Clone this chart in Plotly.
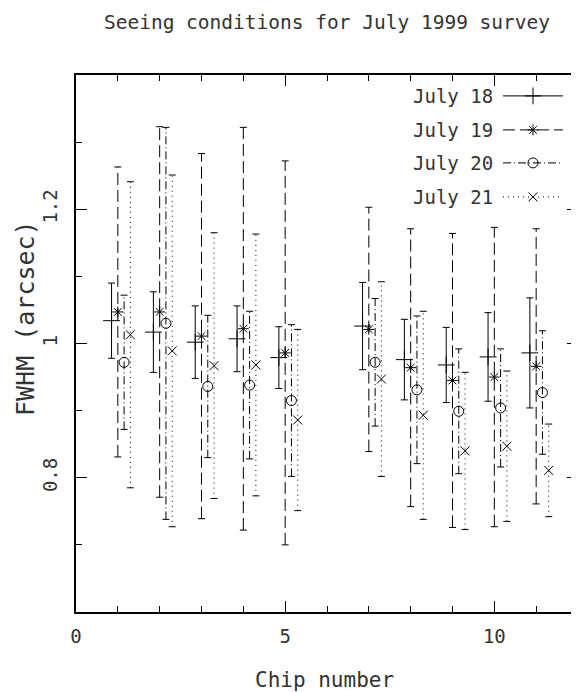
import plotly.graph_objects as go

# ---- data ----
chips = [1, 2, 3, 4, 5, 7, 8, 9, 10, 11]
series_names = ["July 18", "July 19", "July 20", "July 21"]

july18 = [1.034, 1.017, 1.002, 1.007, 0.979, 1.026, 0.976, 0.968, 0.980, 0.986]
july18_err = [0.056, 0.060, 0.054, 0.049, 0.046, 0.065, 0.060, 0.056, 0.066, 0.082]

july19 = [1.047, 1.047, 1.011, 1.022, 0.986, 1.021, 0.964, 0.945, 0.950, 0.966]
july19_err = [0.216, 0.276, 0.272, 0.300, 0.286, 0.182, 0.207, 0.219, 0.223, 0.205]

july20 = [0.972, 1.030, 0.936, 0.938, 0.915, 0.972, 0.931, 0.899, 0.904, 0.927]
july20_err = [0.100, 0.292, 0.106, 0.110, 0.113, 0.095, 0.110, 0.093, 0.088, 0.092]

july21 = [1.013, 0.989, 0.967, 0.968, 0.886, 0.947, 0.893, 0.840, 0.847, 0.811]
july21_err = [0.228, 0.262, 0.198, 0.195, 0.135, 0.145, 0.155, 0.117, 0.112, 0.069]

x_tick_vals = [0, 5, 10]
y_tick_vals = [0.8, 1.0, 1.2]
y_tick_text = ["0.8", "1", "1.2"]

# ---- styles ----
offsets = [-0.15, 0.0, 0.15, 0.30]
dashes = ["solid", "12px,5px", "8px,3px,1px,3px", "1px,4px"]
symbols = ["cross-thin", "asterisk", "circle-open", "x-thin"]
msizes = [12, 9, 10, 9]
FONT = "DejaVu Sans Mono"
TXT = "#333333"
W, H = 571, 684
L, T, PW, PH = 68, 67, 502, 537
R, B = W - L - PW, H - T - PH
OX, OY = 6, 8  # page offset of the figure inside the window


def px_x(xr):
    return (xr - OX - L) / PW


def px_y(yr):
    return (T + PH - (yr - OY)) / PH


values = [july18, july19, july20, july21]
errors = [july18_err, july19_err, july20_err, july21_err]

fig = go.Figure()

for k in range(4):
    xs = [c + offsets[k] for c in chips]
    lx, ly = [], []
    for x, v, e in zip(xs, values[k], errors[k]):
        lx += [x, x, None]
        ly += [v - e, v + e, None]
    fig.add_trace(go.Scatter(
        x=lx, y=ly, mode="lines", showlegend=False, hoverinfo="skip",
        line=dict(color="black", width=1, dash=dashes[k])))
    # caps
    fig.add_trace(go.Scatter(
        x=xs + xs,
        y=[v - e for v, e in zip(values[k], errors[k])] + [v + e for v, e in zip(values[k], errors[k])],
        mode="markers", showlegend=False, hoverinfo="skip",
        marker=dict(symbol="line-ew", size=5, color="black",
                    line=dict(color="black", width=1))))
    # centre markers
    fig.add_trace(go.Scatter(
        x=xs, y=values[k], mode="markers", name=series_names[k], showlegend=False,
        marker=dict(symbol=symbols[k], size=msizes[k], color="black",
                    line=dict(color="black", width=1))))
    # legend sample
    fig.add_trace(go.Scatter(
        x=[None], y=[None], mode="lines+markers", name=" ",
        legend="legend" if k == 0 else f"legend{k + 1}",
        line=dict(color="black", width=1, dash=dashes[k]),
        marker=dict(symbol=symbols[k], size=msizes[k], color="black",
                    line=dict(color="black", width=1))))

row_px = [96, 130, 163, 197]
legends = {}
for k in range(4):
    yp = px_y(row_px[k])
    legends["legend" if k == 0 else f"legend{k + 1}"] = dict(
        x=px_x(581), xanchor="right", y=yp, yanchor="middle",
        bgcolor="rgba(0,0,0,0)", borderwidth=0, itemwidth=60,
        font=dict(family=FONT, size=16, color="black"))
    fig.add_annotation(
        x=px_x(493), xref="paper", y=yp, yref="paper",
        text=series_names[k], showarrow=False, xanchor="right", yanchor="middle",
        font=dict(family=FONT, size=19, color=TXT))

fig.add_annotation(
    x=px_x(322), xref="paper", y=px_y(680), yref="paper", text="Chip number",
    showarrow=False, xanchor="center", yanchor="middle",
    font=dict(family=FONT, size=21, color=TXT))
fig.add_annotation(
    x=px_x(23), xref="paper", y=px_y(318), yref="paper", text="FWHM (arcsec)",
    showarrow=False, xanchor="center", yanchor="middle", textangle=-90,
    font=dict(family=FONT, size=25, color=TXT))

axis_common = dict(
    showline=True, linecolor="black", linewidth=1.5, mirror="ticks",
    ticks="inside", tickcolor="black", tickwidth=1, ticklen=11,
    showgrid=False, zeroline=False, automargin=False,
    tickfont=dict(family=FONT, size=19, color=TXT),
)

fig.update_layout(
    width=W, height=H,
    margin=dict(l=L, r=R, t=T, b=B, autoexpand=False),
    paper_bgcolor="white", plot_bgcolor="white",
    title=dict(text="Seeing conditions for July 1999 survey",
               x=(325 - OX) / W, xref="container", xanchor="center",
               y=1 - (22 - OY) / H, yanchor="middle",
               font=dict(family=FONT, size=19.5, color=TXT)),
    xaxis=dict(range=[0, 12], tickmode="array", tickvals=x_tick_vals,
               ticklabelstandoff=6,
               minor=dict(tickmode="linear", dtick=1, ticks="inside", ticklen=6,
                          tickcolor="black", tickwidth=1, showgrid=False),
               **axis_common),
    yaxis=dict(range=[0.6, 1.4], tickmode="array", tickvals=y_tick_vals,
               ticktext=y_tick_text, tickangle=-90, ticklabelstandoff=10,
               minor=dict(tickmode="linear", dtick=0.1, ticks="inside", ticklen=6,
                          tickcolor="black", tickwidth=1, showgrid=False),
               **axis_common),
    **legends,
)

fig.write_html("out.html")
